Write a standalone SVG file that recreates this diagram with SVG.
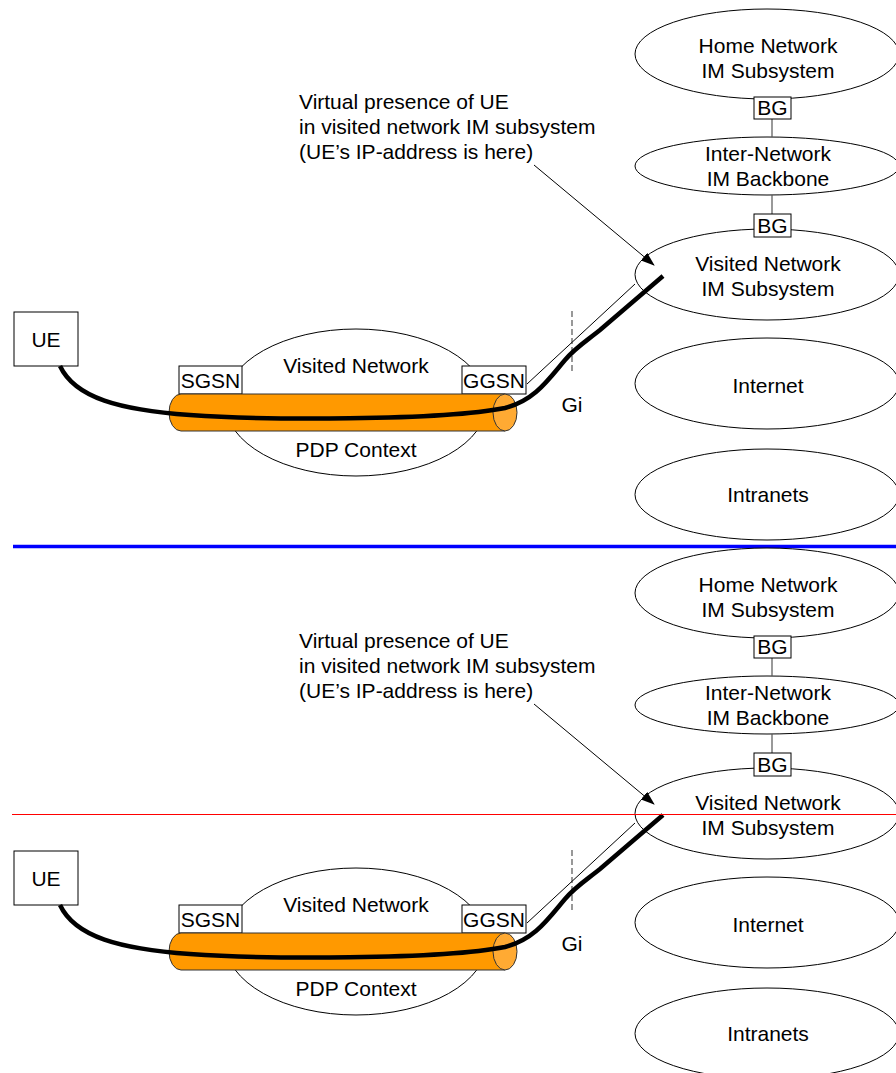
<svg xmlns="http://www.w3.org/2000/svg" width="896" height="1073" viewBox="0 0 896 1073">
<defs>
<style>
text{font-family:"Liberation Sans",Arial,sans-serif;font-size:21px;fill:#000;text-anchor:middle}
.ann{text-anchor:start}
.ell{fill:#fff;stroke:#000;stroke-width:1}
.box{fill:#fff;stroke:#000;stroke-width:1}
.bgl{stroke:#555;stroke-width:1.2;fill:none}
.thick{fill:none;stroke:#000;stroke-width:4.5;stroke-linecap:butt}
.thin{fill:none;stroke:#000;stroke-width:1}
.dash{stroke:#555;stroke-width:1.2;stroke-dasharray:6,3;fill:none}
.cyl{fill:#FF9900;stroke:#333;stroke-width:1}
.cap{fill:#FFAA33;stroke:#333;stroke-width:1}
</style>
<marker id="ah" markerWidth="14" markerHeight="10" refX="13" refY="5" orient="auto" markerUnits="userSpaceOnUse">
<path d="M0,0 L14,5 L0,10 Z" fill="#000"/>
</marker>
</defs>
<rect width="896" height="1073" fill="#fff"/>

<g id="top-half">
  <g id="t-home"><ellipse class="ell" cx="767" cy="54" rx="132" ry="45"/><text x="768" y="53">Home Network</text><text x="768" y="78">IM Subsystem</text></g>
  <g id="t-inter"><ellipse class="ell" cx="767" cy="166" rx="132" ry="29"/><text x="768" y="161">Inter-Network</text><text x="768" y="186">IM Backbone</text></g>
  <g id="t-visited-ims"><ellipse class="ell" cx="767" cy="274.5" rx="132" ry="45.5"/><text x="768" y="271">Visited Network</text><text x="768" y="296">IM Subsystem</text></g>
  <g id="t-internet"><ellipse class="ell" cx="767" cy="383.5" rx="132" ry="45.5"/><text x="768" y="393">Internet</text></g>
  <g id="t-intranets"><ellipse class="ell" cx="767" cy="494.5" rx="132" ry="45.5"/><text x="768" y="502">Intranets</text></g>
  <g id="t-bg-links"><line class="bgl" x1="772" y1="119" x2="772" y2="137"/><line class="bgl" x1="772" y1="195" x2="772" y2="214"/></g>
  <g id="t-bg1"><rect class="box" x="754" y="97" width="37" height="22"/><text x="772.5" y="115">BG</text></g>
  <g id="t-bg2"><rect class="box" x="754" y="214" width="37" height="23"/><text x="772.5" y="233">BG</text></g>
  <g id="t-visited-net"><ellipse class="ell" cx="356" cy="402.5" rx="131" ry="73.5"/><text x="356" y="373">Visited Network</text><text x="356" y="457">PDP Context</text></g>
  <g id="t-sgsn"><rect class="box" x="179" y="366" width="63" height="28"/><text x="210.5" y="387.5">SGSN</text></g>
  <g id="t-ggsn"><rect class="box" x="462" y="366" width="64" height="28"/><text x="494" y="387.5">GGSN</text></g>
  <g id="t-ue"><rect class="box" x="14" y="312" width="64" height="54"/><text x="46" y="347">UE</text></g>
  <g id="t-pdp-tunnel"><path class="cyl" d="M181,394 H505 V431 H181 A12,18.5 0 0 1 181,394 Z"/><ellipse class="cap" cx="505" cy="412.5" rx="12" ry="18.5"/></g>
  <g id="t-annotation"><text class="ann" x="299" y="109">Virtual presence of UE</text><text class="ann" x="299" y="134">in visited network IM subsystem</text><text class="ann" x="299" y="159">(UE’s IP-address is here)</text></g>
  <g id="t-gi"><text x="572" y="412">Gi</text></g>
  <g id="t-connectors">
    <line class="dash" x1="572" y1="311" x2="572" y2="373"/>
    <line class="thin" x1="527" y1="384" x2="635" y2="284"/>
    <path class="thick" d="M60,366 C75,398 120,410 190,415 S440,421 505,408 C535,400 548,380 565,360 C575,348 585,342 600,330 L663,276"/>
    <line class="thin" x1="534" y1="165" x2="654" y2="265" marker-end="url(#ah)"/>
  </g>
</g>

<line id="blue-separator" x1="13" y1="546.5" x2="896" y2="546.5" stroke="#0000FF" stroke-width="3.5"/>

<g id="bottom-half" transform="translate(0,539)">
  <g id="b-home"><ellipse class="ell" cx="767" cy="54" rx="132" ry="45"/><text x="768" y="53">Home Network</text><text x="768" y="78">IM Subsystem</text></g>
  <g id="b-inter"><ellipse class="ell" cx="767" cy="166" rx="132" ry="29"/><text x="768" y="161">Inter-Network</text><text x="768" y="186">IM Backbone</text></g>
  <g id="b-visited-ims"><ellipse class="ell" cx="767" cy="274.5" rx="132" ry="45.5"/><text x="768" y="271">Visited Network</text><text x="768" y="296">IM Subsystem</text></g>
  <g id="b-internet"><ellipse class="ell" cx="767" cy="383.5" rx="132" ry="45.5"/><text x="768" y="393">Internet</text></g>
  <g id="b-intranets"><ellipse class="ell" cx="767" cy="494.5" rx="132" ry="45.5"/><text x="768" y="502">Intranets</text></g>
  <g id="b-bg-links"><line class="bgl" x1="772" y1="119" x2="772" y2="137"/><line class="bgl" x1="772" y1="195" x2="772" y2="214"/></g>
  <g id="b-bg1"><rect class="box" x="754" y="97" width="37" height="22"/><text x="772.5" y="115">BG</text></g>
  <g id="b-bg2"><rect class="box" x="754" y="214" width="37" height="23"/><text x="772.5" y="233">BG</text></g>
  <g id="b-visited-net"><ellipse class="ell" cx="356" cy="402.5" rx="131" ry="73.5"/><text x="356" y="373">Visited Network</text><text x="356" y="457">PDP Context</text></g>
  <g id="b-sgsn"><rect class="box" x="179" y="366" width="63" height="28"/><text x="210.5" y="387.5">SGSN</text></g>
  <g id="b-ggsn"><rect class="box" x="462" y="366" width="64" height="28"/><text x="494" y="387.5">GGSN</text></g>
  <g id="b-ue"><rect class="box" x="14" y="312" width="64" height="54"/><text x="46" y="347">UE</text></g>
  <g id="b-pdp-tunnel"><path class="cyl" d="M181,394 H505 V431 H181 A12,18.5 0 0 1 181,394 Z"/><ellipse class="cap" cx="505" cy="412.5" rx="12" ry="18.5"/></g>
  <g id="b-annotation"><text class="ann" x="299" y="109">Virtual presence of UE</text><text class="ann" x="299" y="134">in visited network IM subsystem</text><text class="ann" x="299" y="159">(UE’s IP-address is here)</text></g>
  <g id="b-gi"><text x="572" y="412">Gi</text></g>
  <g id="b-connectors">
    <line class="dash" x1="572" y1="311" x2="572" y2="373"/>
    <line class="thin" x1="527" y1="384" x2="635" y2="284"/>
    <path class="thick" d="M60,366 C75,398 120,410 190,415 S440,421 505,408 C535,400 548,380 565,360 C575,348 585,342 600,330 L663,276"/>
    <line class="thin" x1="534" y1="165" x2="654" y2="265" marker-end="url(#ah)"/>
  </g>
  <line id="red-line" x1="12" y1="275.5" x2="896" y2="275.5" stroke="#FF0000" stroke-width="1.2"/>
</g>
</svg>
